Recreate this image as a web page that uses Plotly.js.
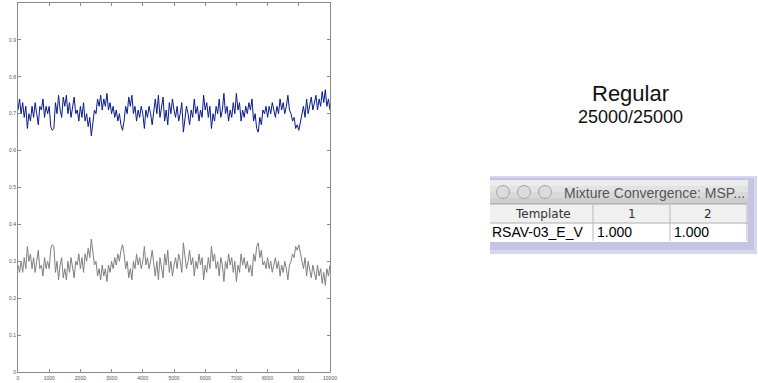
<!DOCTYPE html>
<html>
<head>
<meta charset="utf-8">
<script src="https://cdn.plot.ly/plotly-3.0.1.min.js"></script>
<style>html,body{margin:0;padding:0;background:#fff;}#chart{width:758px;height:383px;}</style>
</head>
<body>
<div id="chart"></div>
<script>
// ---- data ----
const xStep = 50;
const blueValues = [
0.71,0.74,0.70,0.73,0.69,0.72,0.66,0.70,0.68,0.72,0.69,0.73,0.70,0.67,0.72,0.71,0.74,0.69,0.72,0.70,
0.72,0.665,0.655,0.66,0.73,0.70,0.75,0.71,0.69,0.745,0.72,0.75,0.70,0.73,0.69,0.72,0.745,0.70,0.71,0.68,
0.72,0.69,0.73,0.68,0.70,0.665,0.69,0.64,0.67,0.71,0.70,0.74,0.72,0.75,0.71,0.74,0.72,0.755,0.71,0.73,
0.70,0.72,0.69,0.71,0.68,0.70,0.67,0.655,0.68,0.72,0.70,0.745,0.72,0.75,0.70,0.72,0.68,0.71,0.69,0.72,
0.70,0.66,0.71,0.69,0.72,0.70,0.67,0.71,0.74,0.70,0.75,0.69,0.72,0.745,0.68,0.71,0.67,0.73,0.70,0.74,
0.71,0.69,0.72,0.68,0.70,0.73,0.65,0.69,0.72,0.70,0.67,0.71,0.69,0.74,0.70,0.72,0.68,0.71,0.69,0.75,
0.71,0.73,0.69,0.72,0.66,0.70,0.68,0.72,0.70,0.74,0.69,0.71,0.755,0.70,0.72,0.68,0.71,0.69,0.73,0.70,
0.755,0.71,0.73,0.68,0.71,0.69,0.72,0.70,0.73,0.71,0.74,0.68,0.70,0.66,0.65,0.69,0.67,0.71,0.70,0.72,
0.69,0.72,0.70,0.73,0.71,0.69,0.72,0.70,0.74,0.71,0.73,0.70,0.72,0.75,0.71,0.70,0.68,0.69,0.66,0.67,
0.655,0.68,0.70,0.72,0.69,0.74,0.70,0.72,0.745,0.71,0.73,0.75,0.71,0.74,0.72,0.76,0.73,0.765,0.72,0.74,
0.71
];
const grayValues = [
0.29,0.27,0.30,0.27,0.31,0.28,0.34,0.30,0.32,0.28,0.31,0.27,0.30,0.33,0.28,0.29,0.26,0.31,0.28,0.30,
0.28,0.335,0.345,0.34,0.27,0.30,0.25,0.29,0.31,0.255,0.28,0.25,0.30,0.27,0.31,0.28,0.255,0.30,0.29,0.32,
0.28,0.31,0.27,0.32,0.30,0.335,0.31,0.36,0.33,0.29,0.30,0.26,0.28,0.25,0.29,0.26,0.28,0.245,0.29,0.27,
0.30,0.28,0.31,0.29,0.32,0.30,0.33,0.345,0.32,0.28,0.30,0.255,0.28,0.25,0.30,0.28,0.32,0.29,0.31,0.28,
0.30,0.34,0.29,0.31,0.28,0.30,0.33,0.29,0.26,0.30,0.25,0.31,0.28,0.255,0.32,0.29,0.33,0.27,0.30,0.26,
0.29,0.31,0.28,0.32,0.30,0.27,0.35,0.31,0.28,0.30,0.33,0.29,0.31,0.26,0.30,0.28,0.32,0.29,0.31,0.25,
0.29,0.27,0.31,0.28,0.34,0.30,0.32,0.28,0.30,0.26,0.31,0.29,0.245,0.30,0.28,0.32,0.29,0.31,0.27,0.30,
0.245,0.29,0.27,0.32,0.29,0.31,0.28,0.30,0.27,0.29,0.26,0.32,0.30,0.34,0.35,0.31,0.33,0.29,0.30,0.28,
0.31,0.28,0.30,0.27,0.29,0.31,0.28,0.30,0.26,0.29,0.27,0.30,0.28,0.25,0.29,0.30,0.32,0.31,0.34,0.33,
0.345,0.32,0.30,0.28,0.31,0.26,0.30,0.28,0.255,0.29,0.27,0.25,0.29,0.26,0.28,0.24,0.27,0.235,0.28,0.26,
0.29
];
const xTickVals = [0,1000,2000,3000,4000,5000,6000,7000,8000,9000,10000];
const xTickText = ['0','1000','2000','3000','4000','5000','6000','7000','8000','9000','10000'];
const yTickVals = [0,0.1,0.2,0.3,0.4,0.5,0.6,0.7,0.8,0.9,1];
const yTickText = ['0','0.1','0.2','0.3','0.4','0.5','0.6','0.7','0.8','0.9','1'];
const headline = 'Regular';
const subline = '25000/25000';
const windowTitle = 'Mixture Convergence: MSP...';
const tableHeader = ['Template','1','2'];
const tableRow = ['RSAV-03_E_V','1.000','1.000'];

const xs = blueValues.map((_, i) => i * xStep);

// ---- helpers (pixel -> paper, margins are zero) ----
const W = 758, H = 383;
const px = x => x / W;
const py = y => 1 - y / H;
function rect(x0, y0, x1, y1, fill, line) {
  return {type:'rect', xref:'paper', yref:'paper', x0:px(x0), x1:px(x1), y0:py(y1), y1:py(y0),
    fillcolor: fill, line: line ? {color: line, width: 1} : {width: 0}, layer:'above'};
}
function circ(cx, cy, r, fill, line) {
  return {type:'circle', xref:'paper', yref:'paper', x0:px(cx-r), x1:px(cx+r), y0:py(cy+r), y1:py(cy-r),
    fillcolor: fill, line:{color: line, width: 1}, layer:'above'};
}
function seg(x0, y0, x1, y1, color) {
  return {type:'line', xref:'paper', yref:'paper', x0:px(x0), x1:px(x1), y0:py(y0), y1:py(y1),
    line:{color: color, width: 1}, layer:'above'};
}
function ann(text, x, y, size, color, xanchor, family) {
  return {text: text, xref:'paper', yref:'paper', x: px(x), y: py(y), xanchor: xanchor || 'center',
    yanchor:'middle', showarrow:false, font:{size: size, color: color, family: family || 'Liberation Sans, Arial, sans-serif'}};
}

const shapes = [
  // shadow / frame
  rect(490, 176, 757, 254, '#d7d7ee'),
  rect(490, 178, 754, 250, '#c4c5e4'),
  // window body
  rect(490, 180, 748, 242, '#ffffff'),
  // title bar gradient
  rect(490, 180, 748, 186, '#ececec'),
  rect(490, 186, 748, 192, '#e2e2e2'),
  rect(490, 192, 748, 198, '#d9d9d9'),
  rect(490, 198, 748, 204, '#cfcfcf'),
  seg(490, 204, 748, 204, '#9a9a9a'),
  // header row
  rect(490, 205, 748, 223, '#f0f0f0'),
  seg(490, 223, 748, 223, '#b0b0b0'),
  seg(593, 205, 593, 241, '#b8b8b8'),
  seg(670, 205, 670, 241, '#b8b8b8'),
  seg(747, 205, 747, 241, '#b8b8b8'),
  // traffic lights (inactive)
  circ(503, 192, 6.5, '#dcdcdc', '#a4a4a4'),
  circ(524, 192, 6.5, '#dcdcdc', '#a4a4a4'),
  circ(545, 192, 6.5, '#dcdcdc', '#a4a4a4')
];

const annotations = [
  ann(headline, 630, 93, 22, '#111'),
  ann(subline, 630, 117, 18, '#111'),
  ann(windowTitle, 562, 193, 14, '#555', 'left'),
  ann(tableHeader[0], 543, 214, 12, '#333', 'center', 'DejaVu Sans, sans-serif'),
  ann(tableHeader[1], 632, 214, 12, '#333', 'center', 'DejaVu Sans, sans-serif'),
  ann(tableHeader[2], 708, 214, 12, '#333', 'center', 'DejaVu Sans, sans-serif'),
  ann(tableRow[0], 490, 232, 14, '#000', 'left'),
  ann(tableRow[1], 595, 232, 14, '#000', 'left'),
  ann(tableRow[2], 672, 232, 14, '#000', 'left')
];

const traces = [
  {x: xs, y: blueValues, type:'scatter', mode:'lines', line:{color:'#0a1a8c', width:1}, hoverinfo:'skip'},
  {x: xs, y: grayValues, type:'scatter', mode:'lines', line:{color:'#7f7f7f', width:1}, hoverinfo:'skip'}
];

const axisCommon = {showline:true, linecolor:'#8a8a8a', linewidth:1, mirror:'ticks', ticks:'inside',
  ticklen:3, tickcolor:'#8a8a8a', showgrid:false, zeroline:false,
  tickfont:{size:5, color:'#555', family:'Liberation Sans, Arial, sans-serif'}};

const layout = {
  width: W, height: H,
  margin:{l:0, r:0, t:0, b:0},
  paper_bgcolor:'#ffffff', plot_bgcolor:'#ffffff',
  showlegend:false,
  xaxis: Object.assign({}, axisCommon, {domain:[18/W, 330/W], range:[0,10000], tickmode:'array',
    tickvals: xTickVals, ticktext: xTickText, ticklabelstandoff:1}),
  yaxis: Object.assign({}, axisCommon, {domain:[(H-372)/H, (H-3)/H], range:[0,1], tickmode:'array',
    tickvals: yTickVals, ticktext: yTickText}),
  shapes: shapes,
  annotations: annotations
};

Plotly.newPlot('chart', traces, layout, {staticPlot:true, displayModeBar:false});
</script>
</body>
</html>
